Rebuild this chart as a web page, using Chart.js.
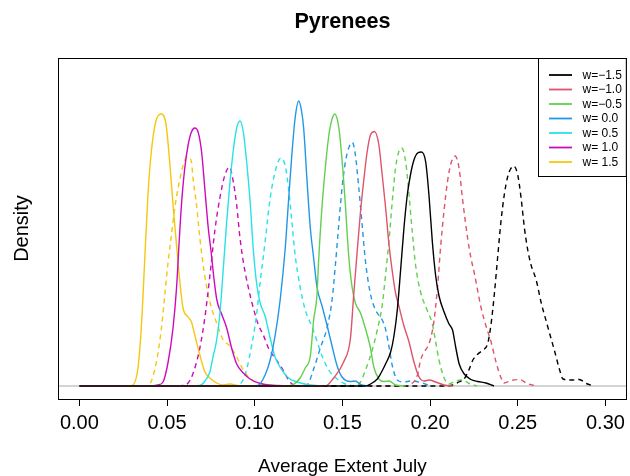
<!DOCTYPE html>
<html>
<head>
<meta charset="utf-8">
<script src="https://cdn.jsdelivr.net/npm/chart.js@4/dist/chart.umd.min.js"></script>
<style>
html,body{margin:0;padding:0;background:#fff;}
#wrap{width:630px;height:476px;position:relative;}
</style>
</head>
<body>
<div id="wrap"><canvas id="c" width="630" height="476"></canvas></div>
<script>
// ---------- data ----------
const chartTitle = 'Pyrenees';
const xAxisTitle = 'Average Extent July';
const yAxisTitle = 'Density';
const xTicks = [0.00, 0.05, 0.10, 0.15, 0.20, 0.25, 0.30];
const xTickLabels = ['0.00', '0.05', '0.10', '0.15', '0.20', '0.25', '0.30'];
const legendLabels = ['w=\u22121.5', 'w=\u22121.0', 'w=\u22120.5', 'w= 0.0', 'w= 0.5', 'w= 1.0', 'w= 1.5'];

const solidM15 = [[0,0],[0.1603,0],[0.1632,0],[0.1660,0.4],[0.1699,1.4],[0.1717,2.4],[0.1746,4.4],[0.1775,6.8],[0.1794,10.0],[0.1813,15.2],[0.1832,23.2],[0.1851,31.6],[0.1870,38.2],[0.1889,42.4],[0.1908,45.2],[0.1929,46.6],[0.1951,46.8],[0.1975,44.8],[0.1994,38.0],[0.2013,28.8],[0.2032,22.0],[0.2051,18.0],[0.2080,14.8],[0.2108,12.4],[0.2128,11.2],[0.2147,7.6],[0.2166,4.4],[0.2195,2.4],[0.2233,1.3],[0.2271,0.9],[0.2319,0.6],[0.2364,0]];
const dashedM15 = [[0,0],[0.2061,0],[0.2090,0],[0.2130,0.2],[0.2164,0.8],[0.2194,1.4],[0.2221,3.2],[0.2244,5.2],[0.2273,6.4],[0.2301,7.2],[0.2328,8.4],[0.2347,12.2],[0.2366,18.2],[0.2385,25.6],[0.2404,32.8],[0.2423,38.2],[0.2442,41.8],[0.2459,43.4],[0.2476,44.0],[0.2500,42.2],[0.2519,37.6],[0.2538,31.6],[0.2557,27.2],[0.2576,24.2],[0.2605,21.2],[0.2634,16.6],[0.2662,13.0],[0.2681,10.6],[0.2710,7.0],[0.2739,3.2],[0.2758,1.4],[0.2805,1.2],[0.2851,1.3],[0.2891,0.5],[0.2931,0]];
const solidM10 = [[0,0],[0.1374,0],[0.1403,0],[0.1450,1.6],[0.1507,4.8],[0.1546,9.6],[0.1564,18.0],[0.1584,26.8],[0.1603,34.8],[0.1622,41.2],[0.1641,46.8],[0.1660,50.2],[0.1683,50.9],[0.1708,48.2],[0.1727,42.2],[0.1746,35.8],[0.1766,28.2],[0.1785,22.8],[0.1803,18.6],[0.1822,16.0],[0.1851,12.0],[0.1880,8.8],[0.1908,4.8],[0.1937,1.8],[0.1966,1.0],[0.1994,1.2],[0.2032,0.8],[0.2080,0.2],[0.2130,0]];
const dashedM10 = [[0,0],[0.1832,0],[0.1861,0],[0.1889,0.3],[0.1928,2.2],[0.1946,5.2],[0.1966,6.8],[0.1985,7.8],[0.2004,9.6],[0.2023,13.2],[0.2042,19.6],[0.2061,28.2],[0.2080,35.2],[0.2099,40.8],[0.2118,44.4],[0.2143,46.0],[0.2166,43.4],[0.2185,37.4],[0.2214,29.6],[0.2233,25.6],[0.2252,22.6],[0.2290,15.8],[0.2319,12.0],[0.2348,8.8],[0.2376,4.8],[0.2405,1.6],[0.2422,0.6],[0.2462,1.1],[0.2510,1.3],[0.2553,0.5],[0.2605,0]];
const solidM05 = [[0,0],[0.1174,0],[0.1214,0.2],[0.1259,1.6],[0.1288,3.6],[0.1317,6.0],[0.1336,13.2],[0.1355,18.2],[0.1364,24.8],[0.1384,36.0],[0.1403,43.8],[0.1422,50.0],[0.1441,53.4],[0.1456,54.4],[0.1479,51.8],[0.1498,45.2],[0.1517,36.2],[0.1536,26.0],[0.1556,19.6],[0.1574,16.6],[0.1603,14.6],[0.1632,11.4],[0.1660,7.6],[0.1679,3.8],[0.1708,1.4],[0.1737,0.9],[0.1766,1.0],[0.1803,0.2],[0.1861,0]];
const dashedM05 = [[0,0],[0.1546,0],[0.1574,0],[0.1603,0.8],[0.1632,3.2],[0.1670,7.2],[0.1699,11.2],[0.1727,16.2],[0.1746,22.2],[0.1766,29.2],[0.1785,37.2],[0.1803,43.6],[0.1821,46.8],[0.1838,47.6],[0.1861,44.8],[0.1880,38.2],[0.1899,30.6],[0.1918,24.0],[0.1946,18.8],[0.1985,15.0],[0.2013,12.4],[0.2032,8.8],[0.2051,5.2],[0.2080,1.6],[0.2108,0.4],[0.2147,1.0],[0.2185,1.2],[0.2223,0.5],[0.2267,0]];
const solid00 = [[0,0],[0.0973,0],[0.1019,0.1],[0.1059,2.2],[0.1088,5.2],[0.1116,10.0],[0.1145,17.2],[0.1174,27.6],[0.1193,37.2],[0.1212,46.4],[0.1231,53.8],[0.1251,57.0],[0.1266,55.2],[0.1279,51.6],[0.1298,41.2],[0.1317,31.6],[0.1336,25.6],[0.1355,19.8],[0.1384,16.0],[0.1412,12.2],[0.1441,8.0],[0.1470,4.0],[0.1498,1.8],[0.1546,0.9],[0.1574,1.0],[0.1603,0.3],[0.1649,0]];
const dashed00 = [[0,0],[0.1259,0],[0.1298,0.2],[0.1336,3.4],[0.1374,7.6],[0.1412,11.6],[0.1441,17.2],[0.1460,24.2],[0.1479,32.2],[0.1498,39.6],[0.1517,44.8],[0.1536,47.6],[0.1557,48.7],[0.1574,46.2],[0.1593,39.8],[0.1613,32.0],[0.1632,24.8],[0.1660,18.4],[0.1689,15.2],[0.1727,13.2],[0.1746,11.4],[0.1766,7.8],[0.1785,4.0],[0.1813,1.2],[0.1851,0.8],[0.1889,1.0],[0.1946,0.7],[0.2004,0]];
const solidP05 = [[0,0],[0.0630,0],[0.0687,0.1],[0.0716,1.0],[0.0744,2.8],[0.0763,6.0],[0.0783,9.2],[0.0802,14.8],[0.0821,23.6],[0.0840,32.8],[0.0859,40.8],[0.0878,47.2],[0.0897,51.6],[0.0916,53.0],[0.0935,50.8],[0.0954,44.8],[0.0973,37.2],[0.0992,27.2],[0.1012,20.2],[0.1031,16.6],[0.1059,14.0],[0.1088,9.6],[0.1116,5.8],[0.1155,3.2],[0.1193,1.6],[0.1241,0.8],[0.1298,0.3],[0.1374,0]];
const dashedP05 = [[0,0],[0.0859,0],[0.0905,0.1],[0.0933,1.2],[0.0956,3.6],[0.0983,8.2],[0.1008,13.6],[0.1031,20.8],[0.1059,28.8],[0.1088,37.6],[0.1116,42.8],[0.1135,45.0],[0.1151,45.6],[0.1174,44.0],[0.1193,39.4],[0.1212,32.8],[0.1231,26.0],[0.1259,19.8],[0.1288,15.2],[0.1327,11.8],[0.1355,9.0],[0.1384,6.0],[0.1422,3.2],[0.1470,1.4],[0.1517,0.4],[0.1574,0]];
const solidP10 = [[0,0],[0.0401,0],[0.0448,0.2],[0.0477,0.8],[0.0506,4.8],[0.0534,11.6],[0.0554,19.6],[0.0568,28.2],[0.0582,36.2],[0.0601,43.6],[0.0620,48.2],[0.0639,50.8],[0.0658,51.6],[0.0677,50.8],[0.0697,46.8],[0.0716,39.2],[0.0735,31.6],[0.0750,27.2],[0.0767,21.6],[0.0784,17.2],[0.0811,14.4],[0.0840,11.6],[0.0868,7.6],[0.0897,4.4],[0.0935,2.6],[0.0973,1.4],[0.1031,0.5],[0.1088,0.2],[0.1202,0]];
const dashedP10 = [[0,0],[0.0544,0],[0.0590,0.1],[0.0620,0.6],[0.0649,2.6],[0.0687,7.6],[0.0716,13.8],[0.0744,22.0],[0.0773,31.2],[0.0802,37.8],[0.0830,42.2],[0.0856,43.8],[0.0878,40.8],[0.0897,36.2],[0.0916,29.6],[0.0935,24.8],[0.0964,19.6],[0.0992,15.6],[0.1021,12.2],[0.1049,10.2],[0.1078,7.6],[0.1116,5.6],[0.1155,3.6],[0.1193,1.2],[0.1221,0.2],[0.1277,0]];
const solidP15 = [[0,0],[0.0275,0],[0.0305,0.2],[0.0334,3.6],[0.0353,11.6],[0.0372,24.8],[0.0391,38.2],[0.0410,46.8],[0.0435,52.8],[0.0464,54.4],[0.0492,52.8],[0.0515,44.8],[0.0534,36.2],[0.0554,28.2],[0.0573,20.8],[0.0591,15.6],[0.0620,13.8],[0.0639,12.8],[0.0658,10.2],[0.0687,6.2],[0.0716,2.8],[0.0744,1.6],[0.0783,0.6],[0.0819,0.2],[0.0859,0.4],[0.0899,0.1],[0.0945,0]];
const dashedP15 = [[0,0],[0.0372,0],[0.0401,0.4],[0.0439,4.8],[0.0468,11.6],[0.0487,18.2],[0.0506,24.8],[0.0525,30.2],[0.0544,35.6],[0.0563,39.6],[0.0582,42.8],[0.0601,45.2],[0.0620,45.8],[0.0639,44.8],[0.0649,41.2],[0.0668,36.2],[0.0687,29.6],[0.0716,21.8],[0.0744,16.8],[0.0783,12.6],[0.0820,9.2],[0.0859,8.0],[0.0897,5.8],[0.0935,3.2],[0.0983,1.2],[0.1031,0.5],[0.1088,0.1],[0.1145,0]];

const solidSeries = [solidM15, solidM10, solidM05, solid00, solidP05, solidP10, solidP15];
const dashedSeries = [dashedM15, dashedM10, dashedM05, dashed00, dashedP05, dashedP10, dashedP15];

// ---------- styles ----------
const seriesColors = ['#000000', '#DF536B', '#61D04F', '#2297E6', '#28E2E5', '#CD0BBC', '#F5C710'];
const FONT = '"Liberation Sans", Arial, Helvetica, sans-serif';

const toPts = arr => arr.map(p => ({x: p[0], y: p[1]}));
const datasets = [];
solidSeries.forEach((s, i) => datasets.push({
  label: legendLabels[i], data: toPts(s), borderColor: seriesColors[i],
  borderWidth: 1.4, pointRadius: 0, fill: false, cubicInterpolationMode: 'monotone', isSolid: true
}));
dashedSeries.forEach((s, i) => datasets.push({
  label: legendLabels[i] + ' (dashed)', data: toPts(s), borderColor: seriesColors[i],
  borderWidth: 1.4, borderDash: [5, 4], pointRadius: 0, fill: false, cubicInterpolationMode: 'monotone', isSolid: false
}));

const decor = {
  id: 'decor',
  beforeDatasetsDraw(chart) {
    const {ctx, chartArea: a, scales: {y}} = chart;
    const y0 = y.getPixelForValue(0);
    ctx.save();
    ctx.strokeStyle = '#c4c4c4';
    ctx.lineWidth = 1.6;
    ctx.beginPath(); ctx.moveTo(a.left, y0); ctx.lineTo(a.right, y0); ctx.stroke();
    ctx.restore();
  },
  afterDraw(chart) {
    const {ctx, chartArea: a} = chart;
    ctx.save();
    // plot box
    ctx.strokeStyle = '#000'; ctx.lineWidth = 1;
    ctx.strokeRect(Math.round(a.left) + 0.5, Math.round(a.top) + 0.5, Math.round(a.right - a.left) - 1, Math.round(a.bottom - a.top));
    const cx = (a.left + a.right) / 2;
    // title
    ctx.fillStyle = '#000';
    ctx.textAlign = 'center'; ctx.textBaseline = 'alphabetic';
    ctx.font = 'bold 21.6px ' + FONT;
    ctx.fillText(chartTitle, cx, 28);
    // x title
    ctx.font = '19px ' + FONT;
    ctx.fillText(xAxisTitle, cx, 472);
    // y title
    ctx.save();
    ctx.translate(28, (a.top + a.bottom) / 2);
    ctx.rotate(-Math.PI / 2);
    ctx.font = '20px ' + FONT;
    ctx.fillText(yAxisTitle, 0, 0);
    ctx.restore();
    // legend
    const lx0 = 538.5, ly0 = a.top + 0.5, lx1 = a.right - 0.5, ly1 = 176.5;
    ctx.fillStyle = '#fff';
    ctx.fillRect(lx0, ly0, lx1 - lx0, ly1 - ly0);
    ctx.strokeStyle = '#000'; ctx.lineWidth = 1;
    ctx.strokeRect(lx0, ly0, lx1 - lx0, ly1 - ly0);
    ctx.font = '12px ' + FONT;
    ctx.textAlign = 'left'; ctx.textBaseline = 'middle';
    const solids = chart.data.datasets.filter(d => d.isSolid);
    solids.forEach((d, i) => {
      const yy = 75 + i * 14.5;
      ctx.strokeStyle = d.borderColor; ctx.lineWidth = 1.8;
      ctx.beginPath(); ctx.moveTo(549, yy); ctx.lineTo(572, yy); ctx.stroke();
      ctx.fillStyle = '#000';
      ctx.fillText(d.label, 582.5, yy + 0.5);
    });
    ctx.restore();
  }
};

new Chart(document.getElementById('c'), {
  type: 'line',
  data: {datasets},
  options: {
    responsive: false,
    animation: false,
    layout: {padding: {top: 58, right: 3, left: 0, bottom: 0}},
    plugins: {legend: {display: false}, title: {display: false}, tooltip: {enabled: false}},
    scales: {
      x: {
        type: 'linear', min: -0.0122, max: 0.3122,
        afterBuildTicks: s => { s.ticks = xTicks.map(v => ({value: v})); },
        afterFit: s => { s.height = 77; },
        ticks: {
          autoSkip: false, maxRotation: 0, minRotation: 0, padding: 5,
          color: '#000', font: {family: FONT, size: 20},
          callback: (v) => { const i = xTicks.findIndex(t => Math.abs(t - v) < 1e-9); return i >= 0 ? xTickLabels[i] : ''; }
        },
        grid: {drawOnChartArea: false, drawTicks: true, tickLength: 7, color: '#000', lineWidth: 1},
        border: {display: false}
      },
      y: {
        type: 'linear', min: -2.6, max: 65.6,
        afterFit: s => { s.width = 58; },
        ticks: {display: false},
        grid: {display: false},
        border: {display: false}
      }
    }
  },
  plugins: [decor]
});
</script>
</body>
</html>
